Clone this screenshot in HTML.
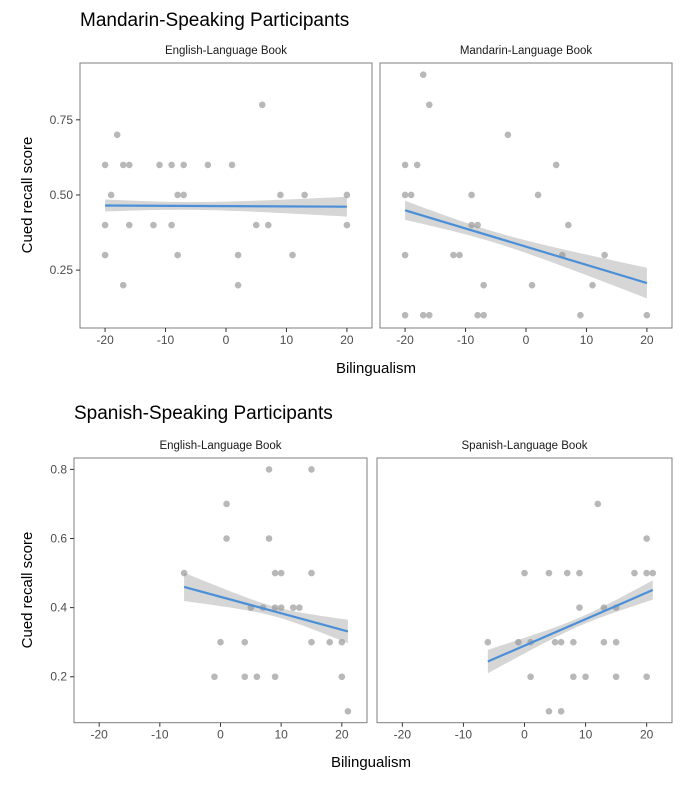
<!DOCTYPE html>
<html><head><meta charset="utf-8"><style>
html,body{margin:0;padding:0;background:#fff;}
svg{display:block;font-family:"Liberation Sans",Arial,sans-serif;}
</style></head><body>
<svg id="chart" width="682" height="790" viewBox="0 0 682 790">
<text x="80" y="26" font-size="19" fill="#000">Mandarin-Speaking Participants</text>
<text x="74" y="419" font-size="19" fill="#000">Spanish-Speaking Participants</text>
<text transform="translate(32,195) rotate(-90)" text-anchor="middle" font-size="15">Cued recall score</text>
<text transform="translate(32,590) rotate(-90)" text-anchor="middle" font-size="15">Cued recall score</text>
<text x="376" y="373" text-anchor="middle" font-size="15">Bilingualism</text>
<text x="371" y="767" text-anchor="middle" font-size="15">Bilingualism</text>
</svg>
<script>
// Panel A: Mandarin speakers, English-language book
const mEngX = [-20,-17,-16,-11,-9,-7,-3,1, 6, -18, -19,-8,-7,9,13,20, -20,-16,-12,-9,5,7,20, -20,-8,2,11, -17,2];
const mEngY = [0.6,0.6,0.6,0.6,0.6,0.6,0.6,0.6, 0.8, 0.7, 0.5,0.5,0.5,0.5,0.5,0.5, 0.4,0.4,0.4,0.4,0.4,0.4,0.4, 0.3,0.3,0.3,0.3, 0.2,0.2];
// Panel B: Mandarin speakers, Mandarin-language book
const mManX = [-17, -16, -3, -20,-18,5, -20,-19,-9,2, -9,-8,7, -20,-12,-11,6,13, -7,1,11, -20,-17,-16,-8,-7,9,20];
const mManY = [0.9, 0.8, 0.7, 0.6,0.6,0.6, 0.5,0.5,0.5,0.5, 0.4,0.4,0.4, 0.3,0.3,0.3,0.3,0.3, 0.2,0.2,0.2, 0.1,0.1,0.1,0.1,0.1,0.1,0.1];
// Panel C: Spanish speakers, English-language book
const sEngX = [8,15, 1, 1,8, -6,9,10,15, 5,7,9,10,12,13, 0,4,15,18,20, -1,4,6,9,20, 21];
const sEngY = [0.8,0.8, 0.7, 0.6,0.6, 0.5,0.5,0.5,0.5, 0.4,0.4,0.4,0.4,0.4,0.4, 0.3,0.3,0.3,0.3,0.3, 0.2,0.2,0.2,0.2,0.2, 0.1];
// Panel D: Spanish speakers, Spanish-language book
const sSpaX = [12, 20, 0,4,7,9,18,20,21, 9,13,15, -6,-1,1,5,6,8,13,15, 1,8,10,15,20, 4,6];
const sSpaY = [0.7, 0.6, 0.5,0.5,0.5,0.5,0.5,0.5,0.5, 0.4,0.4,0.4, 0.3,0.3,0.3,0.3,0.3,0.3,0.3,0.3, 0.2,0.2,0.2,0.2,0.2, 0.1,0.1];
// Fitted lines: value at left and right ends of fit
const fitStart = [0.465, 0.449, 0.46, 0.244];
const fitEnd = [0.461, 0.207, 0.331, 0.451];
// Confidence band half-widths: left end, right end, narrowest
const bandLeft = [0.02, 0.032, 0.041, 0.034];
const bandRight = [0.033, 0.051, 0.034, 0.028];
const bandMin = [0.013, 0.018, 0.014, 0.012];
const xTicks = [-20,-10,0,10,20];
const yTicksTop = [0.25,0.5,0.75];
const yTickLabelsTop = ["0.25","0.50","0.75"];
const yTicksBottom = [0.2,0.4,0.6,0.8];
const yTickLabelsBottom = ["0.2","0.4","0.6","0.8"];
const stripLabels = ["English-Language Book","Mandarin-Language Book","English-Language Book","Spanish-Language Book"];

const NS = "http://www.w3.org/2000/svg";
const svg = document.getElementById("chart");
function mk(tag, attrs, parent){
  const e = document.createElementNS(NS, tag);
  for (const k in attrs) e.setAttribute(k, attrs[k]);
  (parent||svg).appendChild(e);
  return e;
}
const XD = [-24.15, 24.15];
function panel(idx, L, R, T, B, yd, xs, ys, yt, ytl, showY){
  const sx = v => L + (v - XD[0]) / (XD[1] - XD[0]) * (R - L);
  const sy = v => B - (v - yd[0]) / (yd[1] - yd[0]) * (B - T);
  const g = mk("g", {});
  
  
  const st = mk("text", {x:(L+R)/2, y:T-9, "text-anchor":"middle", "font-size":"11.5", fill:"#1a1a1a"}, g);
  st.textContent = stripLabels[idx];
  
  
  const n = xs.length;
  for(let i=0;i<n;i++){
    const c = mk("circle", {cx:sx(xs[i]), cy:sy(ys[i]), r:3.3, fill:"#b8b8b8"}, g);
    
    
  }
  const x0 = Math.min(...xs), x1 = Math.max(...xs);
  const y0 = fitStart[idx], y1 = fitEnd[idx];
  const hL = bandLeft[idx], hR = bandRight[idx], m = bandMin[idx];
  const r = Math.sqrt((hL*hL-m*m)/(hR*hR-m*m));
  const xc = (x0 + r*x1)/(1+r);
  const c2 = (hL*hL-m*m)/((x0-xc)**2);
  const up=[], lo=[];
  for(let k=0;k<=40;k++){
    const x = x0 + (x1-x0)*k/40;
    const f = y0 + (y1-y0)*(x-x0)/(x1-x0);
    const h = Math.sqrt(m*m + c2*(x-xc)**2);
    up.push(sx(x).toFixed(2)+","+sy(f+h).toFixed(2));
    lo.unshift(sx(x).toFixed(2)+","+sy(f-h).toFixed(2));
  }
  const band = mk("polygon", {points: up.concat(lo).join(" "), fill:"#999", "fill-opacity":"0.4"}, g);
  
  
  const ln = mk("line", {x1:sx(x0), y1:sy(y0), x2:sx(x1), y2:sy(y1), stroke:"#4a8fd8", "stroke-width":"2.2"}, g);
  
  
  const fr = mk("rect", {x:L, y:T, width:R-L, height:B-T, fill:"none", stroke:"#7f7f7f", "stroke-width":"1"}, g);
  
  
  xTicks.forEach(v=>{
    mk("line", {x1:sx(v), x2:sx(v), y1:B, y2:B+4, stroke:"#333"}, g);
    const tx = mk("text", {x:sx(v), y:B+16, "text-anchor":"middle", "font-size":"12", fill:"#4d4d4d"}, g);
    tx.textContent = v;
    
    
  });
  if (showY) yt.forEach((v,i)=>{
    mk("line", {x1:L-4, x2:L, y1:sy(v), y2:sy(v), stroke:"#333"}, g);
    const tx = mk("text", {x:L-7, y:sy(v)+4, "text-anchor":"end", "font-size":"12", fill:"#4d4d4d"}, g);
    tx.textContent = ytl[i];
    
    
  });
}
const ydTop = [0.0575, 0.939], ydBot = [0.067, 0.833];
panel(0, 80, 372, 63, 328, ydTop, mEngX, mEngY, yTicksTop, yTickLabelsTop, true);
panel(1, 380, 672, 63, 328, ydTop, mManX, mManY, yTicksTop, yTickLabelsTop, false);
panel(2, 74, 367, 458, 722.7, ydBot, sEngX, sEngY, yTicksBottom, yTickLabelsBottom, true);
panel(3, 377, 672, 458, 722.7, ydBot, sSpaX, sSpaY, yTicksBottom, yTickLabelsBottom, false);
</script>
</body></html>
